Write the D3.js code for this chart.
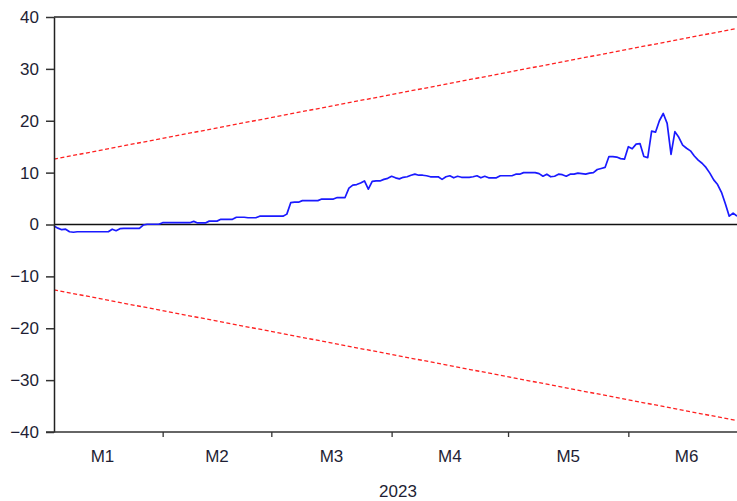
<!DOCTYPE html>
<html>
<head>
<meta charset="utf-8">
<script src="https://cdn.jsdelivr.net/npm/d3@7"></script>
<style>
  html, body { margin: 0; padding: 0; background: #fff; }
  svg { display: block; }
  text { font-family: "Liberation Sans", Arial, sans-serif; fill: #1e1e34; }
</style>
</head>
<body>
<svg id="chart" width="737" height="501"></svg>
<script>
// ---- data ----
const startDate = "2023-01-04";
const cusum = [
  -0.3, -0.7, -1.0, -0.9, -1.4, -1.5, -1.4, -1.4, -1.4, -1.4,
  -1.4, -1.4, -1.4, -1.4, -1.4, -0.9, -1.2, -0.8, -0.75, -0.75,
  -0.75, -0.75, -0.75, -0.1, 0.05, 0.05, 0.05, 0.05, 0.35, 0.35,
  0.35, 0.35, 0.35, 0.35, 0.35, 0.35, 0.6, 0.3, 0.3, 0.3,
  0.65, 0.65, 0.65, 1.0, 1.0, 1.0, 1.0, 1.4, 1.4, 1.4,
  1.3, 1.3, 1.3, 1.6, 1.6, 1.6, 1.6, 1.6, 1.6, 1.6,
  2.0, 4.2, 4.3, 4.3, 4.6, 4.6, 4.6, 4.6, 4.6, 4.9,
  4.9, 4.9, 4.9, 5.2, 5.2, 5.2, 7.0, 7.6, 7.7, 8.0,
  8.4, 6.8, 8.3, 8.4, 8.4, 8.7, 8.9, 9.3, 9.0, 8.8,
  9.1, 9.2, 9.5, 9.7, 9.5, 9.5, 9.4, 9.2, 9.2, 9.2,
  8.7, 9.2, 9.4, 9.0, 9.3, 9.1, 9.1, 9.1, 9.2, 9.4,
  9.0, 9.3, 9.0, 9.0, 9.0, 9.4, 9.4, 9.4, 9.4, 9.7,
  9.7, 10.0, 10.0, 10.0, 10.0, 9.8, 9.3, 9.7, 9.2, 9.3,
  9.7, 9.6, 9.3, 9.7, 9.7, 9.9, 9.8, 9.7, 9.9, 10.0,
  10.6, 10.8, 11.0, 13.1, 13.1, 13.0, 12.7, 12.6, 15.0, 14.6,
  15.5, 15.6, 13.1, 12.9, 18.0, 17.8, 20.0, 21.4, 19.5, 13.5,
  17.9, 16.8, 15.3, 14.7, 14.2, 13.2, 12.4, 11.8, 11.0, 9.9,
  8.6, 7.7, 6.2, 4.0, 1.6, 2.2, 1.6
];
const upperBound = [12.6, 37.8];   // at first and last observation
const lowerBound = [-12.6, -37.8];
const yTicks = [40, 30, 20, 10, 0, -10, -20, -30, -40];
const monthLabels = ["M1", "M2", "M3", "M4", "M5", "M6"];
const yearLabel = "2023";

// ---- layout ----
const svg = d3.select("#chart");
const mLeft = 54, mRight = 738, mTop = 17, mBottom = 432;

const parse = d3.timeParse("%Y-%m-%d");
const d0 = parse(startDate);
const dates = cusum.map((_, i) => d3.timeDay.offset(d0, i));
const series = cusum.map((v, i) => ({ date: dates[i], value: v }));
const firstDate = dates[0], lastDate = dates[dates.length - 1];

const x = d3.scaleTime().domain([firstDate, lastDate]).range([mLeft, mRight - 1]);
const y = d3.scaleLinear().domain([-40, 40]).range([mBottom, mTop]);

// frame top line
svg.append("line").attr("x1", mLeft).attr("x2", mRight).attr("y1", mTop).attr("y2", mTop)
  .attr("stroke", "#222").attr("stroke-width", 1.5);

// bounds
const boundLine = d3.line().x(d => x(d.date)).y(d => y(d.value));
[upperBound, lowerBound].forEach(b => {
  svg.append("path")
    .datum([{ date: firstDate, value: b[0] }, { date: lastDate, value: b[1] }])
    .attr("d", boundLine)
    .attr("fill", "none")
    .attr("stroke", "#ff2020")
    .attr("stroke-width", 1.3)
    .attr("stroke-dasharray", "4,2.5");
});

// zero line
svg.append("line").attr("x1", mLeft).attr("x2", mRight).attr("y1", y(0)).attr("y2", y(0))
  .attr("stroke", "#111").attr("stroke-width", 1.4);

// cusum line
svg.append("path")
  .datum(series)
  .attr("d", d3.line().x(d => x(d.date)).y(d => y(d.value)))
  .attr("fill", "none")
  .attr("stroke", "#1a1aff")
  .attr("stroke-width", 1.7)
  .attr("stroke-linejoin", "round");

// y axis
const yAxis = d3.axisLeft(y).tickValues(yTicks).tickSize(8).tickPadding(7).tickSizeOuter(0);
const gy = svg.append("g").attr("transform", `translate(${mLeft},0)`).call(yAxis);
gy.select(".domain").attr("stroke", "#222").attr("stroke-width", 1.5);
gy.selectAll(".tick line").attr("stroke", "#333").attr("stroke-width", 1.5);
gy.selectAll(".tick text").style("font-size", "17px")
  .style("font-family", "'Liberation Sans', Arial, sans-serif").attr("fill", "#1e1e34");

// x axis: month boundary ticks
const monthStarts = d3.timeMonth.range(d3.timeMonth.ceil(firstDate), lastDate);
const xAxis = d3.axisBottom(x).tickValues(monthStarts).tickSize(5).tickFormat("").tickSizeOuter(0);
const gx = svg.append("g").attr("transform", `translate(0,${mBottom})`).call(xAxis);
gx.select(".domain").attr("stroke", "#333").attr("stroke-width", 1.5)
  .attr("d", `M${mLeft - 8},0H${mRight}`);
gx.selectAll(".tick line").attr("stroke", "#333").attr("stroke-width", 1.3);

// month labels centred on each calendar month
const allMonths = d3.timeMonth.range(d3.timeMonth.floor(firstDate), d3.timeMonth.offset(d3.timeMonth.floor(lastDate), 1));
monthLabels.forEach((m, i) => {
  const a = x(allMonths[i]), b = x(d3.timeMonth.offset(allMonths[i], 1));
  svg.append("text")
    .attr("x", (a + b) / 2)
    .attr("y", mBottom + 30)
    .attr("text-anchor", "middle")
    .style("font-size", "17px")
    .text(m);
});

svg.append("text")
  .attr("x", 398).attr("y", 497)
  .attr("text-anchor", "middle")
  .style("font-size", "17px")
  .text(yearLabel);
</script>
</body>
</html>
